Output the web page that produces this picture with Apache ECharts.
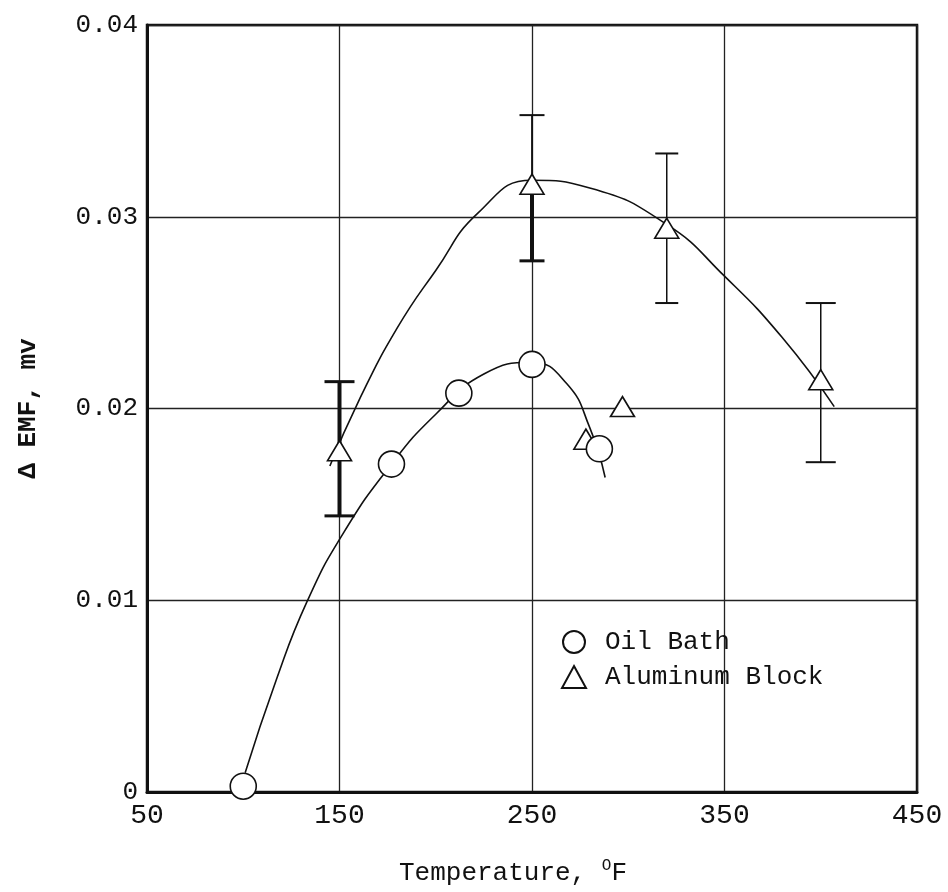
<!DOCTYPE html>
<html>
<head>
<meta charset="utf-8">
<script src="https://cdn.jsdelivr.net/npm/echarts@6/dist/echarts.min.js"></script>
<style>
  html, body { margin: 0; padding: 0; background: #fff; }
  #chart { width: 948px; height: 892px; }
</style>
</head>
<body>
<div id="chart"></div>
<script>
// tick labels
const xTicks = [50, 150, 250, 350, 450];
const yTicks = ['0', '0.01', '0.02', '0.03', '0.04'];

// Oil Bath points
const oilX = [100, 177, 212, 250, 285];
const oilY = [0.0003, 0.0171, 0.0208, 0.0223, 0.0179];

// Aluminum Block points
const alumX = [150, 250, 320, 400, 278, 297];
const alumY = [0.0178, 0.0317, 0.0294, 0.0215, 0.0184, 0.0201];

// error bars on aluminum block points
const errX = [150, 250, 320, 400];
const errMid = [0.0178, 0.0317, 0.0294, 0.0215];
const errLow = [0.0144, 0.0277, 0.0255, 0.0172];
const errHigh = [0.0214, 0.0353, 0.0333, 0.0255];

// faired curves
const oilCurveX = [101, 117, 133, 152, 177, 200, 225, 250, 268, 280, 288];
const oilCurveY = [0.001, 0.0058, 0.0099, 0.0135, 0.0171, 0.0197, 0.0218, 0.0224, 0.0213, 0.0190, 0.0164];
const alumCurveX = [145, 160, 180, 200, 222, 250, 280, 320, 350, 380, 407];
const alumCurveY = [0.0170, 0.0204, 0.0242, 0.0272, 0.0302, 0.0319, 0.0315, 0.0296, 0.0269, 0.0237, 0.0201];

// bar styling (kept apart from the values)
const errUpW = [4, 1.8, 1.5, 1.5];
const errLowW = [4, 4, 1.5, 1.5];
const capW = [30, 25, 23, 30];
const capUpT = [3, 2, 2, 2];
const capLowT = [3, 3, 2, 2];

const zip = (a, b) => a.map((v, i) => [v, b[i]]);
const font = 'Liberation Mono, Courier New, monospace';

const chart = echarts.init(document.getElementById('chart'));
chart.setOption({
  backgroundColor: '#fff',
  animation: false,
  grid: {
    left: 147, right: 31, top: 25, bottom: 100,
    show: true, borderColor: '#111', borderWidth: 2.5
  },
  legend: {
    data: ['Oil Bath', 'Aluminum Block'],
    orient: 'vertical',
    left: 556, top: 624,
    itemWidth: 24, itemHeight: 22, itemGap: 9,
    textStyle: { fontFamily: font, fontSize: 26, color: '#111', padding: [0, 0, 0, 14] }
  },
  xAxis: {
    type: 'value', min: 50, max: 450, interval: 100,
    name: 'Temperature, {sup|O}F',
    nameLocation: 'middle', nameGap: 66,
    nameTextStyle: {
      fontFamily: font, fontSize: 26, color: '#111', padding: [0, 38, 0, 0],
      rich: { sup: { fontFamily: font, fontSize: 16, color: '#111', padding: [0, 0, 14, 0] } }
    },
    axisLine: { lineStyle: { color: '#111', width: 3 } },
    axisTick: { show: false },
    axisLabel: {
      margin: 10, fontFamily: font, fontSize: 28, color: '#111',
      formatter: v => xTicks.includes(v) ? String(v) : ''
    },
    splitLine: { lineStyle: { color: '#222', width: 1.3 } }
  },
  yAxis: {
    type: 'value', min: 0, max: 0.04, interval: 0.01,
    name: 'Δ EMF, mv',
    nameLocation: 'middle', nameGap: 106,
    nameTextStyle: { fontFamily: font, fontSize: 26, fontWeight: 'bold', color: '#111' },
    axisLine: { lineStyle: { color: '#111', width: 3 } },
    axisTick: { show: false },
    axisLabel: {
      margin: 9, fontFamily: font, fontSize: 26, color: '#111',
      formatter: v => yTicks[Math.round(v * 100)]
    },
    splitLine: { lineStyle: { color: '#222', width: 1.3 } }
  },
  series: [
    {
      name: 'oilCurve', type: 'line', data: zip(oilCurveX, oilCurveY),
      smooth: 0.5, showSymbol: false, z: 1,
      lineStyle: { color: '#111', width: 1.6 }
    },
    {
      name: 'alumCurve', type: 'line', data: zip(alumCurveX, alumCurveY),
      smooth: 0.5, showSymbol: false, z: 1,
      lineStyle: { color: '#111', width: 1.6 }
    },
    {
      name: 'errors', type: 'custom', z: 2,
      data: errX.map((x, i) => [x, errLow[i], errHigh[i], errMid[i]]),
      renderItem: (params, api) => {
        const i = params.dataIndex;
        const lo = api.coord([api.value(0), api.value(1)]);
        const hi = api.coord([api.value(0), api.value(2)]);
        const mid = api.coord([api.value(0), api.value(3)]);
        const h = capW[i] / 2;
        const st = w => ({ stroke: '#111', lineWidth: w });
        return {
          type: 'group',
          children: [
            { type: 'line', shape: { x1: hi[0], y1: hi[1], x2: mid[0], y2: mid[1] }, style: st(errUpW[i]) },
            { type: 'line', shape: { x1: mid[0], y1: mid[1], x2: lo[0], y2: lo[1] }, style: st(errLowW[i]) },
            { type: 'line', shape: { x1: hi[0] - h, y1: hi[1], x2: hi[0] + h, y2: hi[1] }, style: st(capUpT[i]) },
            { type: 'line', shape: { x1: lo[0] - h, y1: lo[1], x2: lo[0] + h, y2: lo[1] }, style: st(capLowT[i]) }
          ]
        };
      }
    },
    {
      name: 'Aluminum Block', type: 'scatter', data: zip(alumX, alumY), z: 3,
      symbol: 'triangle', symbolSize: [24, 20],
      itemStyle: { color: '#fff', borderColor: '#111', borderWidth: 1.6, opacity: 1 }
    },
    {
      name: 'Oil Bath', type: 'scatter', data: zip(oilX, oilY), z: 4,
      symbol: 'circle', symbolSize: 26,
      itemStyle: { color: '#fff', borderColor: '#111', borderWidth: 1.6, opacity: 1 }
    }
  ]
});
</script>
</body>
</html>
